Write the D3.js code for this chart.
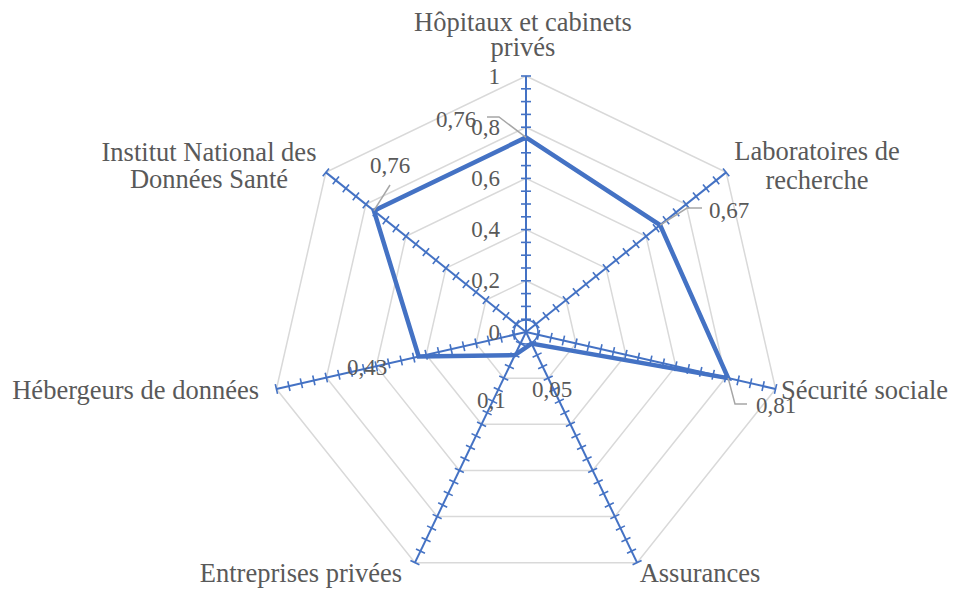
<!DOCTYPE html>
<html>
<head>
<meta charset="utf-8">
<script src="https://cdn.jsdelivr.net/npm/d3@7"></script>
<style>
  html, body { margin: 0; padding: 0; background: #fff; }
  svg { display: block; }
</style>
</head>
<body>
<svg id="chart" width="955" height="589"></svg>
<script>
// Categories (clockwise from the top) and their values
const categories = [
  ["Hôpitaux et cabinets", "privés"],
  ["Laboratoires de", "recherche"],
  ["Sécurité sociale"],
  ["Assurances"],
  ["Entreprises privées"],
  ["Hébergeurs de données"],
  ["Institut National des", "Données Santé"]
];
const values = [0.76, 0.67, 0.81, 0.05, 0.1, 0.43, 0.76];
const valueLabels = ["0,76", "0,67", "0,81", "0,05", "0,1", "0,43", "0,76"];
const gridLevels = [0.2, 0.4, 0.6, 0.8, 1];
const tickLabels = ["0", "0,2", "0,4", "0,6", "0,8", "1"];
const minorStep = 0.05;

const cx = 526, cy = 332, R = 256;
const blue = "#4472C4", grid = "#d9d9d9", leader = "#a6a6a6";
const fontFamily = "'Liberation Serif', Tinos, 'Times New Roman', serif";
const textColor = "#595959";

const svg = d3.select("#chart");
const n = categories.length;
const angle = d3.scaleLinear().domain([0, n]).range([0, 2 * Math.PI]);
const r = d3.scaleLinear().domain([0, 1]).range([0, R]);

function pt(i, v) {
  const a = angle(i);
  return [cx + r(v) * Math.sin(a), cy - r(v) * Math.cos(a)];
}

// Heptagonal gridlines
const gridLine = d3.line();
svg.append("g").selectAll("path").data(gridLevels).join("path")
  .attr("d", lv => gridLine(d3.range(n).map(i => pt(i, lv))) + "Z")
  .attr("fill", "none").attr("stroke", grid).attr("stroke-width", 1.5);

// Spokes with cross tick marks
const spokes = svg.append("g");
const ticks = d3.range(1, Math.round(1 / minorStep) + 1).map(k => k * minorStep);
d3.range(n).forEach(i => {
  const [x1, y1] = pt(i, 1);
  spokes.append("line").attr("x1", cx).attr("y1", cy).attr("x2", x1).attr("y2", y1)
    .attr("stroke", blue).attr("stroke-width", 2);
  const a = angle(i);
  const px = Math.cos(a) * 5, py = Math.sin(a) * 5;
  spokes.selectAll(null).data(ticks).join("line")
    .attr("x1", v => pt(i, v)[0] - px).attr("y1", v => pt(i, v)[1] - py)
    .attr("x2", v => pt(i, v)[0] + px).attr("y2", v => pt(i, v)[1] + py)
    .attr("stroke", blue).attr("stroke-width", 1.6);
});
spokes.append("circle").attr("cx", cx).attr("cy", cy).attr("r", 12)
  .attr("fill", "none").attr("stroke", blue).attr("stroke-width", 1.6);

// Value axis labels along the top spoke
svg.append("g").selectAll("text").data(tickLabels).join("text")
  .attr("x", cx - 26)
  .attr("y", (d, k) => pt(0, k * 0.2)[1])
  .attr("dy", "0.33em")
  .attr("text-anchor", "end")
  .attr("font-family", fontFamily).attr("fill", textColor)
  .attr("font-size", 23)
  .text(d => d);

// Data series
svg.append("path")
  .attr("d", d3.line()(values.map((v, i) => pt(i, v))) + "Z")
  .attr("fill", "none").attr("stroke", blue).attr("stroke-width", 4.5)
  .attr("stroke-linejoin", "miter");

// Data labels, with leader lines where the label sits away from its point
const labelPos = [
  { x: 436, y: 127, lead: [[487, 117], [499, 117]] },
  { x: 709, y: 218, lead: [[702, 208], [687, 208]] },
  { x: 756, y: 413, lead: [[747, 404], [735, 404]] },
  { x: 532, y: 397, lead: null },
  { x: 477, y: 408, lead: null },
  { x: 347, y: 375, lead: null },
  { x: 370, y: 173, lead: [[390, 185]] }
];
const dl = svg.append("g");
values.forEach((v, i) => {
  const p = labelPos[i];
  if (p.lead) {
    dl.append("path")
      .attr("d", d3.line()(p.lead.concat([pt(i, v)])))
      .attr("fill", "none").attr("stroke", leader).attr("stroke-width", 1.5);
  }
});
values.forEach((v, i) => {
  const p = labelPos[i];
  dl.append("text").attr("x", p.x).attr("y", p.y)
    .attr("font-family", fontFamily).attr("fill", textColor)
    .attr("font-size", 23)
    .text(valueLabels[i]);
});

// Category labels
const catPos = [
  { x: 523, y: 31, anchor: "middle", lh: 25 },
  { x: 817, y: 160, anchor: "middle", lh: 29 },
  { x: 781, y: 399, anchor: "start", lh: 0 },
  { x: 700, y: 582, anchor: "middle", lh: 0 },
  { x: 301, y: 582, anchor: "middle", lh: 0 },
  { x: 259, y: 399, anchor: "end", lh: 0 },
  { x: 209, y: 161, anchor: "middle", lh: 27 }
];
const cl = svg.append("g");
categories.forEach((lines, i) => {
  const p = catPos[i];
  const t = cl.append("text").attr("text-anchor", p.anchor)
    .attr("font-family", fontFamily).attr("fill", textColor)
    .attr("font-size", 26.5);
  lines.forEach((ln, j) => {
    t.append("tspan").attr("x", p.x).attr("y", p.y + j * p.lh).text(ln);
  });
});
</script>
</body>
</html>
